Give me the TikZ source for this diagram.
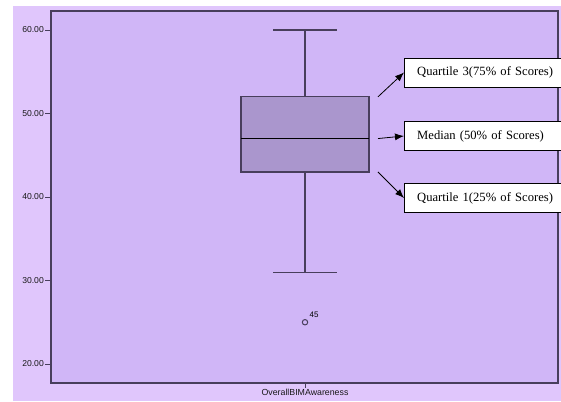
\documentclass[tikz,border=0pt]{standalone}
\usepackage{fontspec}
\setmainfont{Liberation Serif}
\setsansfont{Liberation Sans}
\usetikzlibrary{arrows, arrows.meta, calc, positioning}
\definecolor{outerBg}{RGB}{224,198,252}
\definecolor{plotBg}{RGB}{208,182,247}
\definecolor{boxFill}{RGB}{170,150,205}
\definecolor{frameLine}{RGB}{72,62,92}
\tikzset{
    plotFrame/.style={draw=frameLine, line width=1.2pt, fill=plotBg},
    whisker/.style={draw=frameLine, line width=1.2pt},
    tickLab/.style={anchor=east, inner sep=1pt, font=\sffamily\fontsize{8.6}{9}\selectfont, text=black!90},
    noteBox/.style={draw, fill=white, rectangle, anchor=west, minimum height=29pt, text width=150pt, inner xsep=13pt, font=\fontsize{12.6}{14}\selectfont},
    noteArrow/.style={-{Latex[length=9pt, width=7pt]}, line width=0.8pt},
}
% value -> page y
\newcommand{\valY}[1]{30+(60-#1)*8.35}
\newcommand{\drawNote}[4]{
    \coordinate (#1s) at (378, {\valY{#2}});
    \node[noteBox] (#1) at (404, #3) {#4};
    \draw[noteArrow] (#1s) -- (#1.west);
}

\begin{document}
\begin{tikzpicture}[x=1pt, y=-1pt]

    \useasboundingbox (0, 0) rectangle (561, 401);
    \fill[outerBg] (13, 6) rectangle (561, 401);
    \draw[plotFrame] (51, 11) rectangle (558, 383);

    % axis ticks
    \foreach \v in {20, 30, 40, 50, 60} {
        \pgfmathsetmacro{\yy}{\valY{\v}}
        \draw[whisker, line width=0.9pt] (45, \yy) -- (51, \yy);
        \node[tickLab] (tick\v) at (45, \yy) {\v.00};
    }
    \draw[whisker, line width=0.9pt] (305, 383) -- (305, 388);
    \node[font=\sffamily\fontsize{8.8}{9}\selectfont, text=black!90, anchor=north, inner sep=1pt] (xlab) at (305, 388) {OverallBIMAwareness};

    % box and whiskers
    \draw[whisker] (305, {\valY{60}}) -- (305, {\valY{52}});
    \draw[whisker] (305, {\valY{43}}) -- (305, {\valY{31}});
    \draw[whisker] (273, {\valY{60}}) -- (337, {\valY{60}});
    \draw[whisker] (273, {\valY{31}}) -- (337, {\valY{31}});
    \draw[whisker, fill=boxFill] (241, {\valY{52}}) rectangle (369, {\valY{43}});
    \draw[line width=1.8pt, black] (241, {\valY{47}}) -- (369, {\valY{47}});

    % outlier
    \draw[frameLine, line width=1pt] (305, {\valY{25}}) circle (2.7);
    \node[font=\sffamily\fontsize{8}{9}\selectfont, inner sep=0pt] (out45) at (314, 315) {45};

    % notes
    \drawNote{q3}{52}{72.5}{Quartile 3(75\% of Scores)}
    \drawNote{med}{47}{136}{Median (50\% of Scores)}
    \drawNote{q1}{43}{198}{Quartile 1(25\% of Scores)}

\end{tikzpicture}
\end{document}
